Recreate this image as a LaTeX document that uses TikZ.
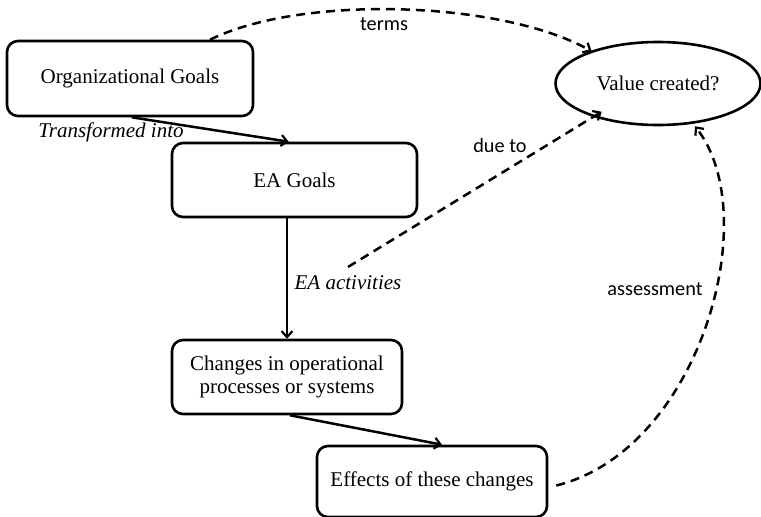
\documentclass[tikz,border=0pt]{standalone}
\usepackage{fontspec}
\setmainfont{Liberation Serif}
\newfontfamily\labfont{Carlito}
\usetikzlibrary{arrows.meta,shapes.geometric,calc}
\begin{document}
\begin{tikzpicture}[x=1pt,y=-1pt,
  box/.style={draw,line width=2.6pt,rounded corners=11pt,font=\fontsize{21}{23}\selectfont,align=center,inner sep=0pt},
  conn/.style={line width=2.5pt,-{Straight Barb[length=6pt,width=11pt,line width=2.2pt]}},
  dconn/.style={conn,dash pattern=on 9pt off 6pt},
  lab/.style={font=\labfont\fontsize{20.3}{22}\selectfont,inner sep=0pt},
  ilab/.style={font=\itshape\fontsize{21}{23}\selectfont,inner sep=0pt}]
\useasboundingbox (0,0) rectangle (761,517);
\node[box,minimum width=246pt,minimum height=75pt] (org) at (130,78.5) {Organizational Goals};
\node[box,minimum width=245pt,minimum height=74pt] (ea) at (294.5,180) {EA Goals};
\node[box,minimum width=230pt,minimum height=74pt] (chg) at (287,377) {Changes in operational\\processes or systems};
\node[box,minimum width=230pt,minimum height=71pt] (eff) at (432,481.5) {Effects of these changes};
\node[draw,ellipse,line width=2.6pt,minimum width=205pt,minimum height=83pt,inner sep=0pt,font=\fontsize{21}{23}\selectfont] (val) at (658,83.5) {Value created?};
\coordinate (ds) at (348,267);
% solid connectors
\draw[conn] ($(org.south west)+(126,0)$) -- ($(ea.north west)+(118,0)$);
\draw[conn] (chg.north |- ea.south) -- (chg.north);
\draw[conn] ($(chg.south)+(3,0)$) -- ($(eff.north)+(10,0)$);
% dashed connectors
\draw[dconn] ($(org.north)+(80,0)$) .. controls (300,-5) and (500,0) .. ($(val.north west)+(7,-2)$);
\draw[dconn] (ds) -- ($(val.south west)+(17,-2)$);
\draw[dconn] ($(eff.east)+(8,4)$) .. controls (700,450) and (765,215) .. ($(val.south)+(37,0)$);
% labels
\node[lab] (lterms) at (384,24) {terms};
\node[lab] (ldue) at (500,146) {due to};
\node[lab] (lass) at (655,289) {assessment};
\node[ilab] (ltr) at (111,132) {Transformed into};
\node[ilab] (lact) at (348,283) {EA activities};
\end{tikzpicture}
\end{document}
